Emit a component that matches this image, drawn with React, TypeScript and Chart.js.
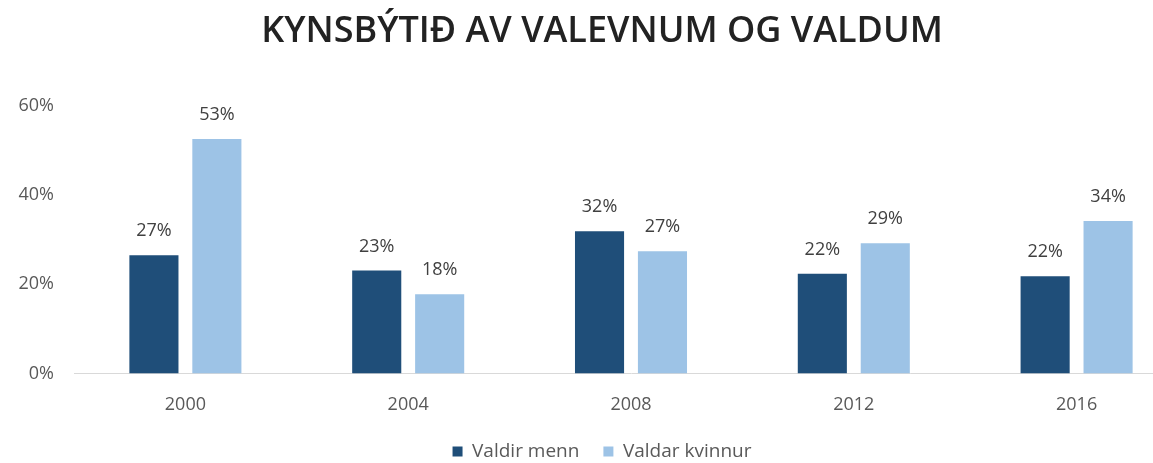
import React, { useEffect, useRef } from "react";
import { Chart, registerables } from "chart.js";

Chart.register(...registerables);

const categories = ["2000", "2004", "2008", "2012", "2016"];
const valdirMenn = [26.5, 23.1, 31.9, 22.4, 21.8];
const valdarKvinnur = [52.6, 17.8, 27.4, 29.2, 34.2];
const seriesNames = ["Valdir menn", "Valdar kvinnur"];
const yTicks = [0, 20, 40, 60];
const titleText = "KYNSBÝTIÐ AV VALEVNUM OG VALDUM";

const DARK = "#1F4E79";
const LIGHT = "#9DC3E6";

const valueLabels = {
  id: "valueLabels",
  afterDatasetsDraw(chart: any) {
    const ctx = chart.ctx;
    ctx.save();
    ctx.font = "18px 'Open Sans'";
    ctx.fillStyle = "#404040";
    ctx.textAlign = "center";
    ctx.textBaseline = "middle";
    chart.data.datasets.forEach((ds: any, i: number) => {
      const meta = chart.getDatasetMeta(i);
      meta.data.forEach((bar: any, j: number) => {
        const v = ds.data[j];
        ctx.fillText(Math.round(v) + "%", bar.x, bar.y - 24);
      });
    });
    ctx.restore();
  },
};

export default function App() {
  const ref = useRef<HTMLCanvasElement>(null);
  useEffect(() => {
    if (!ref.current) return;
    const chart = new Chart(ref.current, {
      type: "bar",
      data: {
        labels: categories,
        datasets: [
          {
            label: seriesNames[0],
            data: valdirMenn,
            backgroundColor: DARK,
            categoryPercentage: 0.565,
            barPercentage: 0.78,
            yAxisID: "y",
          },
          {
            label: seriesNames[1],
            data: valdarKvinnur,
            backgroundColor: LIGHT,
            categoryPercentage: 0.565,
            barPercentage: 0.78,
            yAxisID: "y",
          },
        ],
      },
      options: {
        responsive: false,
        animation: false,
        layout: { padding: 0 },
        plugins: {
          title: {
            display: true,
            text: titleText,
            color: "#222222",
            font: { family: "'Open Sans'", size: 36, weight: 600 },
            padding: { top: 10, bottom: 52.8 },
          },
          legend: {
            position: "bottom",
            labels: {
              boxWidth: 10,
              boxHeight: 10,
              color: "#595959",
              font: { family: "'Open Sans'", size: 19 },
              padding: 24,
            },
          },
          tooltip: { enabled: false },
        },
        scales: {
          x: {
            grid: { display: false, drawTicks: false },
            border: { display: true, color: "#D9D9D9", width: 1 },
            ticks: {
              color: "#595959",
              font: { family: "'Open Sans'", size: 18 },
              padding: 21,
            },
            afterFit: (s: any) => {
              s.height = 44.5;
            },
          },
          y: {
            min: 0,
            max: 60,
            grid: { display: false, drawTicks: false },
            border: { display: false },
            afterFit: (s: any) => {
              s.width = 74;
            },
            afterBuildTicks: (s: any) => {
              s.ticks = yTicks.map((v) => ({ value: v }));
            },
            ticks: {
              color: "#595959",
              font: { family: "'Open Sans'", size: 18 },
              padding: 20,
              callback: (v: any) => v + "%",
            },
          },
          y2: {
            position: "right",
            display: true,
            grid: { display: false, drawTicks: false },
            border: { display: false },
            ticks: { display: false },
            afterFit: (s: any) => {
              s.width = 16;
            },
          },
        },
      },
      plugins: [valueLabels],
    });
    return () => chart.destroy();
  }, []);
  return (
    <div
      style={{
        position: "fixed",
        left: 0,
        top: 0,
        width: 1153,
        height: 463,
        overflow: "hidden",
        background: "#fff",
      }}
    >
      <canvas ref={ref} width={1204} height={471} style={{ width: 1204, height: 471, display: "block" }} />
    </div>
  );
}
